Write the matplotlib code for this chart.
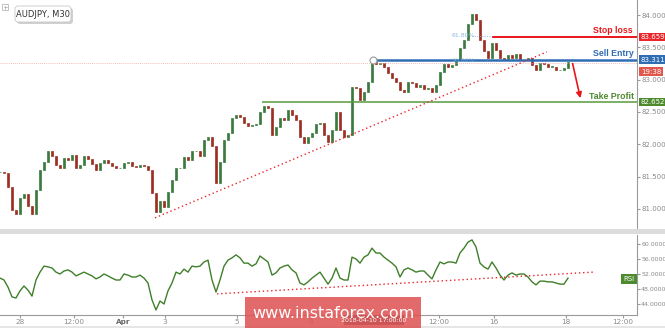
import matplotlib
matplotlib.use("Agg")
import matplotlib.pyplot as plt
import matplotlib.transforms as mtransforms
from matplotlib.patches import Rectangle, FancyBboxPatch
import numpy as np

# ---------------- data ----------------
closes = [81.57, 81.55, 81.34, 80.98, 80.92, 81.17, 81.23, 81.04, 80.92, 81.29,
          81.60, 81.72, 81.89, 81.82, 81.68, 81.63, 81.79, 81.76, 81.83, 81.63,
          81.68, 81.82, 81.77, 81.69, 81.60, 81.71, 81.76, 81.71, 81.66, 81.63,
          81.63, 81.71, 81.72, 81.66, 81.65, 81.68, 81.66, 81.60, 81.24, 80.95,
          81.12, 81.03, 81.26, 81.45, 81.63, 81.63, 81.80, 81.76, 81.89, 81.89,
          81.82, 82.06, 82.11, 81.97, 81.40, 81.72, 82.06, 82.17, 82.41, 82.45,
          82.42, 82.33, 82.28, 82.30, 82.31, 82.50, 82.59, 82.56, 82.14, 82.27,
          82.41, 82.37, 82.53, 82.45, 82.37, 82.11, 82.02, 82.11, 82.17, 82.31,
          82.33, 82.14, 82.03, 82.22, 82.50, 82.22, 82.11, 82.14, 82.89, 82.87,
          82.68, 82.81, 82.96, 83.27, 83.24, 83.26, 83.20, 83.10, 83.02, 82.96,
          82.84, 82.81, 82.96, 82.95, 82.89, 82.92, 82.85, 82.87, 82.81, 82.92,
          83.12, 83.24, 83.20, 83.23, 83.30, 83.49, 83.61, 83.86, 84.02, 83.92,
          83.61, 83.44, 83.33, 83.57, 83.46, 83.33, 83.32, 83.38, 83.33, 83.40,
          83.30, 83.30, 83.33, 83.23, 83.15, 83.26, 83.24, 83.20, 83.20, 83.15,
          83.15, 83.18, 83.27]

rsi = [50.9, 50.4, 48.5, 45.9, 45.6, 47.5, 48.8, 47.7, 46.1, 50.4,
       52.5, 54.1, 53.9, 53.6, 52.5, 52.0, 52.8, 53.1, 52.5, 51.5,
       52.0, 52.5, 52.0, 51.5, 50.7, 51.2, 52.0, 51.5, 50.9, 50.4,
       50.4, 52.0, 51.7, 51.2, 51.2, 51.7, 50.9, 49.6, 45.1, 42.4,
       44.8, 44.0, 47.5, 49.6, 52.5, 52.0, 53.3, 52.5, 54.1, 53.9,
       54.1, 55.2, 55.7, 50.4, 47.2, 50.4, 54.1, 55.7, 56.3, 57.1,
       56.3, 54.9, 54.9, 54.1, 54.7, 56.8, 56.0, 55.2, 51.7, 52.3,
       53.6, 54.1, 54.4, 53.1, 52.3, 49.6, 49.1, 49.9, 50.9, 51.7,
       52.5, 50.9, 49.3, 50.9, 53.6, 50.9, 50.4, 50.4, 56.5, 56.0,
       54.9, 56.5, 57.1, 58.9, 57.6, 57.6, 56.5, 55.7, 54.9, 53.9,
       51.2, 53.1, 53.6, 53.1, 52.5, 52.8, 52.8, 51.7, 50.7, 53.1,
       55.2, 54.7, 55.2, 55.2, 54.9, 57.6, 58.9, 60.5, 61.1, 59.2,
       54.9, 53.9, 53.3, 55.2, 53.6, 51.7, 50.4, 51.7, 52.3, 51.7,
       52.0, 52.0, 51.2, 49.9, 49.1, 50.1, 50.1, 49.9, 49.9, 49.6,
       49.3, 49.3, 50.9]

stop_loss = 83.659
sell_entry = 83.311
take_profit = 82.652
bid_price = 83.26
fib_618 = 83.68

trend_x = [38.75, 136.75]
trend_y = [80.86, 83.43]
rsi_trend_x = [54.25, 148.25]
rsi_trend_y = [46.7, 52.5]
arrow_start = (143.0, 83.29)
arrow_end = (145.25, 82.67)

price_ticks = [81.0, 81.5, 82.0, 82.5, 83.0, 83.5, 84.0]
rsi_ticks = [44, 48, 52, 56, 60]
x_tick_labels = ["28", "12:00", "Apr", "3", "5", "9", "12:00", "16", "18", "12:00"]
x_tick_pos = [5, 18.5, 30.75, 41.25, 59.25, 77.75, 109.75, 123.5, 141.5, 155.75]

# ---------------- figure ----------------
W, H = 665, 328
fig = plt.figure(figsize=(W / 100, H / 100), dpi=100)
fig.patch.set_facecolor("white")

def fx(px):
    return px / W

def fy(py):
    return 1 - py / H

ax = fig.add_axes([0, fy(230), fx(637), 230 / H])
ax2 = fig.add_axes([0, fy(315), fx(637), (315 - 235) / H])

xmax = 637 / 4
ax.set_xlim(0, xmax)
ax.set_ylim(84 - 215 / 64.6, 84 + 15 / 64.6)
ax2.set_xlim(0, xmax)
ax2.set_ylim(60 - 71 / 3.75, 60 + 9 / 3.75)

up_c = "#3b7a3e"
dn_c = "#9c2f22"
n = len(closes)
xs = np.arange(n)
opens = [closes[0]] + closes[:-1]
for i in range(n):
    o, c = opens[i], closes[i]
    col = up_c if c >= o else dn_c
    lo, hi = min(o, c), max(o, c)
    ax.add_patch(Rectangle((xs[i] - 0.3, lo), 0.6, max(hi - lo, 0.006),
                           facecolor=col, edgecolor=col, lw=0.5))

# horizontal levels
ax.axhline(bid_price, color="#f3a3a3", lw=0.6, ls=(0, (1, 1.5)))
ax.hlines(stop_loss, 492 / 4, xmax, color="#e8161b", lw=1.4)
ax.hlines(sell_entry, 373 / 4, xmax, color="#2f6db3", lw=1.8)
ax.hlines(take_profit, 262 / 4, xmax, color="#5a9a3a", lw=1.1)
ax.hlines(fib_618, 472 / 4, 492 / 4, color="#8db7e0", lw=0.7, ls=(0, (1, 1.5)))
ax.text(452 / 4, fib_618, "61.80%", color="#8db7e0", fontsize=4.5, va="center")
ax.text(452 / 4, sell_entry - 0.02, "50.00%", color="#8db7e0", fontsize=4.5,
        va="center", alpha=0.6)
ax.plot([373 / 4], [sell_entry], marker="o", ms=5, mfc="white", mec="#999999",
        mew=0.8, zorder=5)

ax.plot(trend_x, trend_y, color="#e8262b", lw=1.0, ls=(0, (1, 2)))
ax.annotate("", xy=arrow_end, xytext=arrow_start,
            arrowprops=dict(arrowstyle="-|>", color="#e8161b", lw=1.2,
                            mutation_scale=8))

lab_font = "Liberation Sans"
ax.text(633 / 4, stop_loss + 0.03, "Stop loss", color="#e8161b", fontsize=6.3,
        fontweight="bold", ha="right", va="bottom", family=lab_font)
ax.text(634 / 4, sell_entry + 0.02, "Sell Entry", color="#2f6db3", fontsize=6.3,
        fontweight="bold", ha="right", va="bottom", family=lab_font)
ax.text(634 / 4, take_profit + 0.01, "Take Profit", color="#4e8a2e", fontsize=6.3,
        fontweight="bold", ha="right", va="bottom", family=lab_font)

# axes styling
for a in (ax, ax2):
    for s in ("top", "left", "bottom"):
        a.spines[s].set_visible(False)
    a.spines["right"].set_color("#9a9a9a")
    a.spines["right"].set_linewidth(0.8)
    a.yaxis.tick_right()
    a.tick_params(axis="y", length=2, color="#9a9a9a", labelsize=5.0,
                  labelcolor="#8a8a8a", pad=1)
ax2.tick_params(axis="y", labelsize=4.5)
ax.set_xticks([])
ax.set_yticks(price_ticks)
ax.set_yticklabels([f"{v:.3f}" for v in price_ticks])

ax2.spines["bottom"].set_visible(True)
ax2.spines["bottom"].set_color("#9a9a9a")
ax2.spines["bottom"].set_linewidth(0.8)
ax2.set_yticks(rsi_ticks)
ax2.set_yticklabels([f"{v:.4f}" for v in rsi_ticks])
ax2.set_xticks(x_tick_pos)
ax2.set_xticklabels(x_tick_labels)
ax2.tick_params(axis="x", length=2, color="#9a9a9a", labelsize=5.2,
                labelcolor="#8a8a8a", pad=1)
for lbl in ax2.get_xticklabels():
    if lbl.get_text() == "Apr":
        lbl.set_fontweight("bold")
        lbl.set_color("#666666")

ax2.plot(xs, rsi, color="#3f7f2a", lw=1.0)
ax2.plot(rsi_trend_x, rsi_trend_y, color="#e8262b", lw=1.0, ls=(0, (1, 2)))

# right price labels
tr = mtransforms.blended_transform_factory(ax.transAxes, ax.transData)
def tag(a, trans, y, txt, fc):
    a.text(1.006, y, txt, transform=trans, color="white", fontsize=5.0,
           va="center", ha="left", clip_on=False,
           bbox=dict(boxstyle="square,pad=0.2", fc=fc, ec="none"))
tag(ax, tr, stop_loss, "83.659", "#e8262b")
tag(ax, tr, sell_entry, "83.311", "#2f6db3")
tag(ax, tr, sell_entry - 0.19, "19:38", "#e0574d")
tag(ax, tr, take_profit, "82.652", "#4e8a2e")

tr2 = mtransforms.blended_transform_factory(ax2.transAxes, ax2.transData)
ax2.text(0.996, 50.6, "RSI", transform=tr2, color="white", fontsize=5.0,
         va="center", ha="right",
         bbox=dict(boxstyle="square,pad=0.3", fc="#4e8a2e", ec="none"))

# overlay: title box, separators, watermark
ov = fig.add_axes([0, 0, 1, 1], facecolor="none")
ov.set_xlim(0, W)
ov.set_ylim(H, 0)
ov.axis("off")
ov.add_patch(Rectangle((0, 229), W, 5, fc="#dcdcdc", ec="none"))
ov.add_patch(Rectangle((0, 326), W, 2, fc="#e6e6e6", ec="none"))
ov.add_patch(FancyBboxPatch((17, 8), 56, 16, boxstyle="round,pad=0,rounding_size=3",
                            fc="#d0d0d0", ec="none"))
ov.add_patch(FancyBboxPatch((15, 6), 56, 16, boxstyle="round,pad=0,rounding_size=3",
                            fc="white", ec="#c8c8c8", lw=0.6))
ov.text(43, 14.5, "AUDJPY, M30", fontsize=6, color="#333333", ha="center",
        va="center")
ov.add_patch(Rectangle((2, 4), 6, 6, fc="white", ec="#aaaaaa", lw=0.5))
ov.plot([3.5, 6.5], [7, 7], color="#aaaaaa", lw=0.5)
ov.plot([5, 5], [5.5, 8.5], color="#aaaaaa", lw=0.5)

ov.add_patch(Rectangle((344, 315), 60, 10, fc="#555555", ec="none"))
ov.text(374, 320, "2018-04-10 17:00:00", fontsize=4.5, color="white",
        ha="center", va="center")
ov.add_patch(Rectangle((245, 297), 176, 31, fc="#e05555", ec="none", alpha=0.88))
ov.text(333, 313, "www.instaforex.com", fontsize=11.5, color="white",
        ha="center", va="center")

fig.savefig("out.png", dpi=100)
